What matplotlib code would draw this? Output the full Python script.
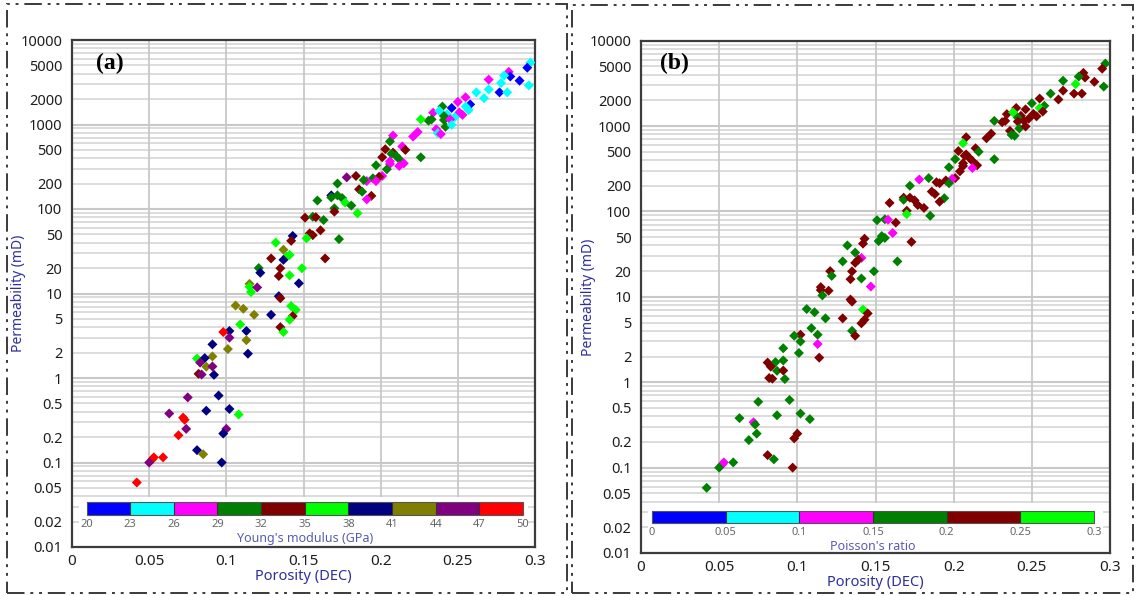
import matplotlib
matplotlib.use("Agg")
import matplotlib.pyplot as plt
import numpy as np
from matplotlib.colors import ListedColormap, BoundaryNorm
from matplotlib.cm import ScalarMappable
from matplotlib.patches import Rectangle
from matplotlib.ticker import NullLocator

# ---------------- data ----------------
porosity = [
    0.297, 0.295, 0.296, 0.283, 0.284, 0.280, 0.290, 0.278, 0.270, 0.277,
    0.282, 0.270, 0.262, 0.267, 0.255, 0.250, 0.258, 0.255, 0.246, 0.257,
    0.251, 0.253, 0.240, 0.234, 0.238, 0.243, 0.248, 0.241, 0.241, 0.245,
    0.233, 0.231, 0.226, 0.242, 0.246, 0.236, 0.237, 0.239, 0.224, 0.221,
    0.208, 0.206, 0.214, 0.216, 0.203, 0.208, 0.207, 0.210, 0.201, 0.212,
    0.206, 0.206, 0.215, 0.212, 0.226, 0.197, 0.204, 0.201, 0.199, 0.195,
    0.197, 0.191, 0.189, 0.184, 0.178, 0.172, 0.186, 0.188, 0.194, 0.191,
    0.168, 0.168, 0.172, 0.175, 0.177, 0.181, 0.159, 0.170, 0.170, 0.185,
    0.163, 0.151, 0.156, 0.158, 0.161, 0.154, 0.156, 0.152, 0.173, 0.143,
    0.142, 0.132, 0.137, 0.141, 0.139, 0.129, 0.137, 0.164, 0.149, 0.135,
    0.121, 0.122, 0.134, 0.141, 0.147, 0.115, 0.115, 0.120, 0.116, 0.134,
    0.135, 0.106, 0.111, 0.118, 0.129, 0.142, 0.145, 0.143, 0.141, 0.135,
    0.137, 0.109, 0.102, 0.098, 0.113, 0.102, 0.113, 0.101, 0.091, 0.114,
    0.091, 0.081, 0.086, 0.083, 0.087, 0.091, 0.082, 0.084, 0.092, 0.075,
    0.095, 0.087, 0.102, 0.108, 0.063, 0.072, 0.073, 0.074, 0.100, 0.098,
    0.069, 0.081, 0.085, 0.097, 0.053, 0.052, 0.050, 0.059, 0.042,
]
permeability = [
    5400, 4700, 2900, 4200, 3700, 3800, 3300, 3100, 3400, 2400,
    2400, 2600, 2400, 2050, 2100, 1850, 1730, 1630, 1570, 1480,
    1390, 1300, 1630, 1380, 1450, 1320, 1220, 1260, 1130, 1150,
    1150, 1110, 1150, 940, 990, 880, 790, 770, 815, 720,
    740, 630, 550, 500, 510, 465, 450, 425, 410, 390,
    367, 341, 347, 323, 409, 329, 295, 246, 241, 231,
    214, 214, 220, 246, 237, 200, 171, 160, 143, 130,
    145, 137, 145, 135, 119, 110, 126, 102, 93, 89,
    74, 79, 81, 80, 56, 51.5, 49, 45, 44, 48,
    42, 40, 33, 28.6, 27.3, 26, 25, 26, 19.9, 19.9,
    20, 17.6, 16.1, 16.4, 13.2, 13, 12, 11.8, 10.4, 9.3,
    8.8, 7.2, 6.6, 5.6, 5.6, 7.1, 6.4, 5.4, 4.9, 4.0,
    3.5, 4.3, 3.6, 3.5, 3.6, 3.0, 2.8, 2.2, 2.5, 1.94,
    1.8, 1.7, 1.72, 1.52, 1.36, 1.37, 1.12, 1.1, 1.09, 0.59,
    0.62, 0.41, 0.43, 0.37, 0.38, 0.34, 0.32, 0.25, 0.25, 0.22,
    0.21, 0.14, 0.125, 0.1, 0.115, 0.109, 0.1, 0.115, 0.058,
]
youngs_modulus = [
    24.5, 21.5, 24.5, 27.5, 21.5, 24.5, 21.5, 24.5, 27.5, 21.5,
    24.5, 24.5, 24.5, 24.5, 27.5, 27.5, 21.5, 24.5, 21.5, 24.5,
    27.5, 27.5, 30.5, 27.5, 24.5, 24.5, 24.5, 30.5, 30.5, 27.5,
    30.5, 30.5, 36.5, 30.5, 24.5, 27.5, 24.5, 27.5, 27.5, 27.5,
    27.5, 30.5, 27.5, 33.5, 33.5, 33.5, 30.5, 30.5, 33.5, 30.5,
    27.5, 27.5, 27.5, 27.5, 30.5, 30.5, 30.5, 27.5, 33.5, 30.5,
    27.5, 27.5, 30.5, 33.5, 45.5, 30.5, 33.5, 30.5, 33.5, 27.5,
    39.5, 30.5, 30.5, 30.5, 36.5, 30.5, 30.5, 30.5, 33.5, 36.5,
    30.5, 33.5, 30.5, 33.5, 33.5, 33.5, 33.5, 36.5, 30.5, 39.5,
    33.5, 36.5, 42.5, 36.5, 36.5, 33.5, 39.5, 33.5, 36.5, 33.5,
    30.5, 39.5, 33.5, 36.5, 39.5, 42.5, 36.5, 45.5, 36.5, 39.5,
    33.5, 42.5, 42.5, 42.5, 39.5, 36.5, 36.5, 33.5, 36.5, 33.5,
    36.5, 36.5, 39.5, 48.5, 39.5, 45.5, 42.5, 42.5, 39.5, 39.5,
    42.5, 36.5, 39.5, 45.5, 42.5, 45.5, 33.5, 45.5, 39.5, 45.5,
    39.5, 39.5, 39.5, 36.5, 45.5, 48.5, 48.5, 45.5, 45.5, 39.5,
    48.5, 39.5, 42.5, 39.5, 48.5, 48.5, 45.5, 48.5, 48.5,
]
poissons_ratio = [
    0.175, 0.225, 0.175, 0.225, 0.225, 0.175, 0.225, 0.275, 0.175, 0.225,
    0.225, 0.225, 0.175, 0.225, 0.225, 0.175, 0.175, 0.275, 0.225, 0.225,
    0.225, 0.225, 0.225, 0.225, 0.275, 0.225, 0.225, 0.175, 0.225, 0.225,
    0.225, 0.225, 0.175, 0.175, 0.225, 0.225, 0.175, 0.175, 0.225, 0.225,
    0.225, 0.275, 0.225, 0.175, 0.225, 0.225, 0.225, 0.225, 0.175, 0.225,
    0.225, 0.225, 0.225, 0.125, 0.175, 0.175, 0.225, 0.225, 0.125, 0.225,
    0.175, 0.225, 0.225, 0.175, 0.125, 0.175, 0.225, 0.225, 0.175, 0.225,
    0.225, 0.175, 0.225, 0.225, 0.225, 0.225, 0.225, 0.225, 0.275, 0.175,
    0.225, 0.175, 0.175, 0.125, 0.125, 0.175, 0.175, 0.175, 0.225, 0.225,
    0.225, 0.175, 0.175, 0.125, 0.225, 0.175, 0.225, 0.175, 0.175, 0.225,
    0.225, 0.175, 0.225, 0.175, 0.125, 0.225, 0.225, 0.225, 0.175, 0.225,
    0.225, 0.175, 0.175, 0.175, 0.225, 0.275, 0.225, 0.225, 0.225, 0.175,
    0.225, 0.175, 0.225, 0.175, 0.175, 0.175, 0.125, 0.175, 0.175, 0.225,
    0.175, 0.225, 0.175, 0.225, 0.175, 0.225, 0.225, 0.225, 0.175, 0.175,
    0.175, 0.175, 0.175, 0.175, 0.175, 0.125, 0.175, 0.175, 0.225, 0.225,
    0.175, 0.225, 0.175, 0.225, 0.125, 0.125, 0.175, 0.175, 0.175,
]

ym_bounds = [20, 23, 26, 29, 32, 35, 38, 41, 44, 47, 50]
ym_colors = ['#0000ff', '#00ffff', '#ff00ff', '#008000', '#800000',
             '#00ff00', '#000080', '#808000', '#800080', '#ff0000']
pr_bounds = [0, 0.05, 0.1, 0.15, 0.2, 0.25, 0.3]
pr_labels = ['0', '0.05', '0.1', '0.15', '0.2', '0.25', '0.3']
pr_colors = ['#0000ff', '#00ffff', '#ff00ff', '#008000', '#800000', '#00ff00']

y_ticks = [0.01, 0.02, 0.05, 0.1, 0.2, 0.5, 1, 2, 5, 10, 20, 50, 100,
           200, 500, 1000, 2000, 5000, 10000]
y_ticklabels = ['0.01', '0.02', '0.05', '0.1', '0.2', '0.5', '1', '2', '5', '10',
                '20', '50', '100', '200', '500', '1000', '2000', '5000', '10000']
x_ticks = [0, 0.05, 0.1, 0.15, 0.2, 0.25, 0.3]
x_ticklabels = ['0', '0.05', '0.1', '0.15', '0.2', '0.25', '0.3']

# ---------------- figure ----------------
W, H = 1136, 596
fig = plt.figure(figsize=(W / 100, H / 100), dpi=100)
fig.patch.set_facecolor('white')

FONT = 'Noto Sans'
LABEL_COLOR = '#2e2e9e'
CB_LABEL_COLOR = '#5a5ab4'


def fx(px):
    return px / W


def fy(py):
    return 1 - py / H


def make_panel(ax_box, cb_box, color_values, bounds, colors, cb_ticklabels,
               cb_label, letter, letter_xy, ylab_x, xlab_y):
    l, t, r, b = ax_box
    ax = fig.add_axes([fx(l), fy(b), fx(r) - fx(l), fy(t) - fy(b)])
    ax.set_yscale('log')
    ax.set_xlim(0, 0.3)
    ax.set_ylim(0.01, 10000)

    # grid lines (log minor grid + vertical porosity grid)
    for k in range(-2, 4):
        for m in range(1, 10):
            v = m * 10.0 ** k
            if v <= 0.01:
                continue
            ax.axhline(v, color='#c8c8c8' if m == 1 else '#d2d2d2',
                       lw=1.5 if m == 1 else 1.1, zorder=0.4)
    for xv in x_ticks[1:-1]:
        ax.axvline(xv, color='#c8c8c8', lw=1.3, zorder=0.4)

    ax.set_yticks(y_ticks)
    ax.set_yticklabels(y_ticklabels)
    ax.yaxis.set_minor_locator(NullLocator())
    ax.set_xticks(x_ticks)
    ax.set_xticklabels(x_ticklabels)
    ax.tick_params(which='both', length=0)
    ax.tick_params(axis='y', pad=7, labelsize=10.5, labelcolor='#1e1e1e')
    ax.tick_params(axis='x', pad=5, labelsize=11, labelcolor='#1e1e1e')
    for lab in ax.get_xticklabels() + ax.get_yticklabels():
        lab.set_fontfamily(FONT)

    for s in ax.spines.values():
        s.set_color('#3c3c3c')
        s.set_linewidth(1.6)

    # white area that holds the colour bar
    ax.add_patch(Rectangle((0.015, 0.0), 0.97, 0.098, transform=ax.transAxes,
                           facecolor='white', edgecolor='none', zorder=1))

    cmap = ListedColormap(colors)
    norm = BoundaryNorm(bounds, cmap.N)
    ax.scatter(porosity, permeability, c=color_values, cmap=cmap, norm=norm,
               marker='D', s=26, linewidths=0, zorder=3)

    cl, ct, cr, cb_ = cb_box
    cax = fig.add_axes([fx(cl), fy(cb_), fx(cr) - fx(cl), fy(ct) - fy(cb_)])
    sm = ScalarMappable(norm=norm, cmap=cmap)
    cbar = fig.colorbar(sm, cax=cax, orientation='horizontal', drawedges=True,
                        ticks=bounds)
    cbar.outline.set_edgecolor('#555555')
    cbar.outline.set_linewidth(0.8)
    cbar.dividers.set_color('#333333')
    cbar.dividers.set_linewidth(0.8)
    cax.set_xticklabels(cb_ticklabels)
    cax.tick_params(length=0, pad=3, labelsize=8, labelcolor='#666666')
    for lab in cax.get_xticklabels():
        lab.set_fontfamily(FONT)
    cax.set_xlabel(cb_label, fontsize=9, color=CB_LABEL_COLOR,
                   fontfamily=FONT, labelpad=1)

    fig.text(fx(letter_xy[0]), fy(letter_xy[1]), letter, fontsize=17,
             fontweight='bold', fontfamily='Liberation Serif',
             ha='center', va='center', color='black')
    fig.text(fx(ylab_x), fy((t + b) / 2), 'Permeability (mD)', rotation=90,
             fontsize=10, color=LABEL_COLOR, fontfamily=FONT,
             ha='center', va='center')
    fig.text(fx((l + r) / 2), fy(xlab_y), 'Porosity (DEC)', fontsize=10.5,
             color=LABEL_COLOR, fontfamily=FONT, ha='center', va='center')
    return ax


make_panel((72, 40, 535, 547), (86.5, 502, 523, 515), youngs_modulus,
           ym_bounds, ym_colors, [str(v) for v in ym_bounds],
           "Young's modulus (GPa)", '(a)', (110, 63), 19, 577)
make_panel((641, 40.7, 1110, 553), (652, 510.7, 1094, 523.3), poissons_ratio,
           pr_bounds, pr_colors, pr_labels,
           "Poisson's ratio", '(b)', (674, 63), 588, 583)

# dash-dot-dot panel frames
ls = (0, (9, 3, 1.5, 3, 1.5, 3))
for (x0, y0, x1, y1) in [(7, 4, 567, 593), (572, 5, 1133, 593)]:
    fig.add_artist(Rectangle((fx(x0), fy(y1)), fx(x1) - fx(x0), fy(y0) - fy(y1),
                             transform=fig.transFigure, fill=False,
                             edgecolor='#3a3a3a', lw=1.4, linestyle=ls))

fig.savefig('out.png', dpi=100, facecolor='white')
